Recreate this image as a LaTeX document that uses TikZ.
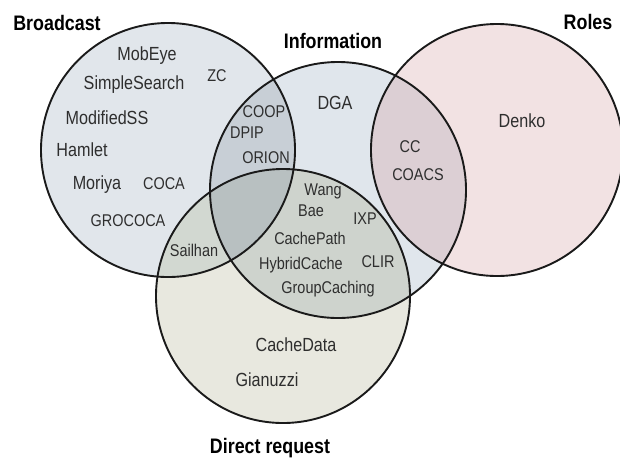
\documentclass[tikz,border=0pt]{standalone}
\usepackage{fontspec}
\setmainfont{Liberation Sans}[FakeStretch=0.85]
\definecolor{fillB}{HTML}{E1E6EB}
\definecolor{fillI}{HTML}{E0E6EC}
\definecolor{fillR}{HTML}{F2E2E3}
\definecolor{fillD}{HTML}{E8E8DF}
\definecolor{fillBI}{HTML}{C8CFD6}
\definecolor{fillIR}{HTML}{DCCFD4}
\definecolor{fillBD}{HTML}{D2D8D1}
\definecolor{fillID}{HTML}{CED3CD}
\definecolor{fillBID}{HTML}{B8C0C1}
\definecolor{ink}{HTML}{2E2E2E}
\definecolor{rim}{HTML}{1A1A1A}
\tikzset{
  settitle/.style={font=\fontsize{21}{24}\selectfont\bfseries, text=black, inner sep=0pt},
  bigitem/.style={font=\fontsize{19}{22}\selectfont, text=ink, inner sep=0pt},
  smallitem/.style={font=\fontsize{17}{20}\selectfont, text=ink, inner sep=0pt},
  rimline/.style={draw=rim, line width=1.9pt},
}
% the four sets
\def\setB{(168,150) circle[radius=127]}
\def\setI{(338,190) circle[radius=128]}
\def\setR{(497,150) circle[radius=126]}
\def\setD{(283,296) circle[radius=127]}
\begin{document}
\begin{tikzpicture}[x=1pt,y=-1pt]
\useasboundingbox (0,0) rectangle (620,459);
% plain fills
\fill[fillB] \setB;
\fill[fillI] \setI;
\fill[fillR] \setR;
\fill[fillD] \setD;
% pairwise overlaps
\begin{scope}\clip \setB; \fill[fillBI] \setI; \end{scope}
\begin{scope}\clip \setI; \fill[fillIR] \setR; \end{scope}
\begin{scope}\clip \setB; \fill[fillBD] \setD; \end{scope}
\begin{scope}\clip \setI; \fill[fillID] \setD; \end{scope}
% triple overlap
\begin{scope}\clip \setB; \clip \setI; \fill[fillBID] \setD; \end{scope}
% outlines
\draw[rimline] \setB;
\draw[rimline] \setI;
\draw[rimline] \setR;
\draw[rimline] \setD;
% set titles
\node[settitle] (tB) at (57,23) {Broadcast};
\node[settitle] (tI) at (333,41) {Information};
\node[settitle] (tR) at (588,22) {Roles};
\node[settitle] (tD) at (270,448) {Direct request};
% Broadcast only
\node[bigitem] (mobeye) at (147,56) {MobEye};
\node[smallitem] (zc) at (217,76) {ZC};
\node[bigitem] (simple) at (134,85) {SimpleSearch};
\node[bigitem] (modss) at (107,118) {ModifiedSS};
\node[bigitem] (hamlet) at (82,150) {Hamlet};
\node[bigitem] (moriya) at (97,185) {Moriya};
\node[smallitem] (coca) at (164,184) {COCA};
\node[smallitem] (grococa) at (128,221) {GROCOCA};
% Broadcast and Information
\node[smallitem] (coop) at (264,112) {COOP};
\node[smallitem] (dpip) at (247,133) {DPIP};
\node[smallitem] (orion) at (266,158) {ORION};
% Information only
\node[bigitem] (dga) at (335,103) {DGA};
% Information and Roles
\node[smallitem] (cc) at (410,147) {CC};
\node[smallitem] (coacs) at (418,175) {COACS};
% Roles only
\node[bigitem] (denko) at (522,121) {Denko};
% Information and Direct request
\node[smallitem] (wang) at (323,191) {Wang};
\node[smallitem] (bae) at (311,211) {Bae};
\node[smallitem] (ixp) at (365,219) {IXP};
\node[smallitem] (cpath) at (310,238) {CachePath};
\node[smallitem] (hybrid) at (301,265) {HybridCache};
\node[smallitem] (clir) at (378,262) {CLIR};
\node[smallitem] (group) at (328,289) {GroupCaching};
% Broadcast and Direct request
\node[smallitem] (sailhan) at (194,250) {Sailhan};
% Direct request only
\node[bigitem] (cdata) at (296,345) {CacheData};
\node[bigitem] (gian) at (267,380) {Gianuzzi};
\end{tikzpicture}
\end{document}
